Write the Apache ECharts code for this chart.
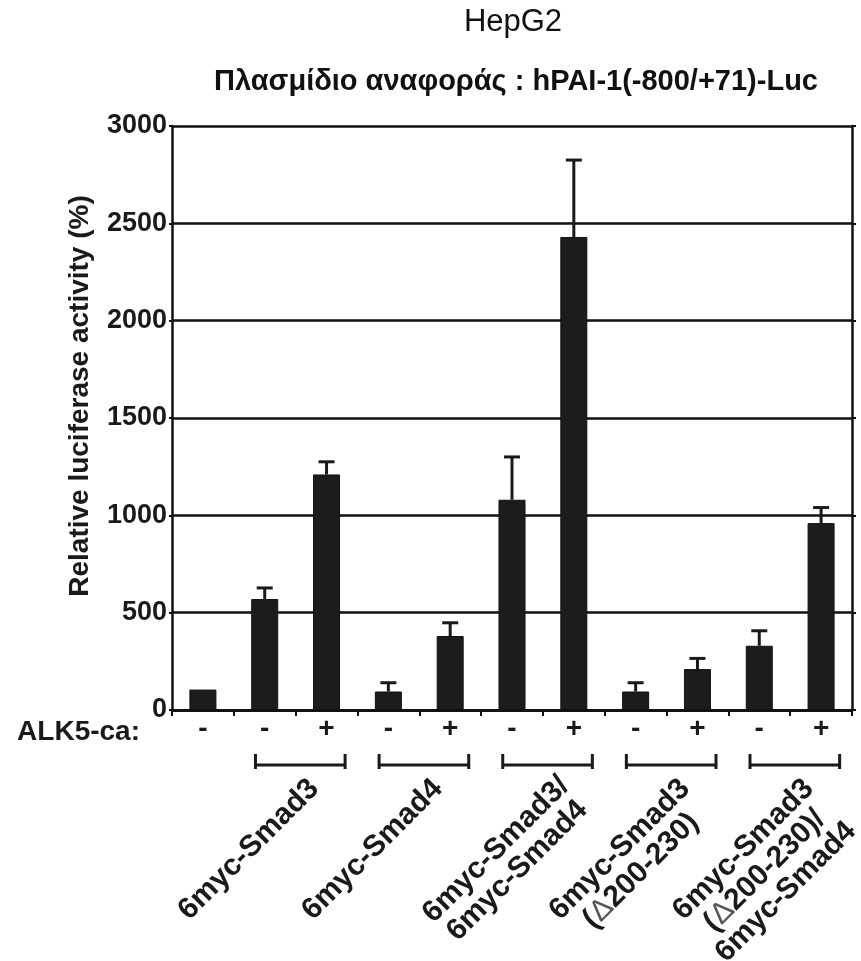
<!DOCTYPE html>
<html>
<head>
<meta charset="utf-8">
<title>HepG2</title>
<script src="https://cdn.jsdelivr.net/npm/echarts@6/dist/echarts.min.js"></script>
<style>
    body { margin: 0; background: #fff; }
    #chart { width: 861px; height: 961px; }
</style>
</head>
<body>
<div id="chart"></div>
<script>
    // ALK5-ca sign under each bar
    var alk5 = ['-', '-', '+', '-', '+', '-', '+', '-', '+', '-', '+'];
    // relative luciferase activity (%) and error (upper only)
    var values = [105, 570, 1210, 95, 380, 1080, 2430, 95, 210, 330, 960];
    var errors = [0, 57, 65, 45, 68, 220, 395, 45, 55, 77, 80];
    var yTicks = [0, 500, 1000, 1500, 2000, 2500, 3000];
    // brackets: first and last bar of each construct
    var groupStart = [1, 3, 5, 7, 9];
    var groupEnd = [2, 4, 6, 8, 10];
    var groupLabels = [
        '6myc-Smad3',
        '6myc-Smad4',
        '6myc-Smad3/\n6myc-Smad4',
        '6myc-Smad3\n({d|Δ}200-230)',
        '6myc-Smad3\n({d|Δ}200-230)/\n6myc-Smad4'
    ];

    var FONT = '"Liberation Sans", Arial, sans-serif';
    var INK = '#1a1a1a';

    var chart = echarts.init(document.getElementById('chart'));

    // error bar: line from bar top up to value + err, with a cap
    function renderError(params, api) {
        var e = api.value(2);
        if (!e) return;
        var i = api.value(0), v = api.value(1);
        var base = api.coord([i, v]);
        var top = api.coord([i, v + e]);
        var st = { stroke: INK, lineWidth: 3 };
        return {
            type: 'group',
            children: [
                { type: 'line', shape: { x1: base[0], y1: base[1], x2: top[0], y2: top[1] }, style: st },
                { type: 'line', shape: { x1: top[0] - 8, y1: top[1], x2: top[0] + 8, y2: top[1] }, style: st }
            ]
        };
    }

    // bracket under a pair of bars + rotated construct name
    function renderBracket(params, api) {
        var band = api.size([1, 0])[0];
        var a = api.coord([api.value(0), 0]);
        var b = api.coord([api.value(1), 0]);
        var x0 = a[0] - band * 0.15;
        var x1 = b[0] + band * 0.3;
        var y = a[1] + 55;
        var cx = (x0 + x1) / 2;
        var st = { stroke: INK, lineWidth: 3 };
        return {
            type: 'group',
            children: [
                { type: 'line', shape: { x1: x0, y1: y, x2: x1, y2: y }, style: st },
                { type: 'line', shape: { x1: x0, y1: y - 11, x2: x0, y2: y + 4 }, style: st },
                { type: 'line', shape: { x1: x1, y1: y - 11, x2: x1, y2: y + 4 }, style: st },
                {
                    type: 'text',
                    x: cx - 62,
                    y: y + 74,
                    rotation: Math.PI / 4,
                    style: {
                        text: groupLabels[params.dataIndex],
                        fontSize: 30,
                        fontWeight: 'bold',
                        fontFamily: FONT,
                        fill: INK,
                        align: 'center',
                        verticalAlign: 'top',
                        lineHeight: 30,
                        rich: {
                            d: { fontSize: 30, fontWeight: 'normal', fontFamily: FONT, fill: '#555', lineHeight: 30 }
                        }
                    }
                }
            ]
        };
    }

    chart.setOption({
        animation: false,
        backgroundColor: '#fff',
        graphic: [
            {
                type: 'text', x: 513, y: 22,
                style: { text: 'HepG2', fontSize: 31, fontFamily: FONT, fill: '#111', align: 'center', verticalAlign: 'middle' }
            },
            {
                type: 'text', x: 516, y: 82,
                style: { text: 'Πλασμίδιο αναφοράς : hPAI-1(-800/+71)-Luc', fontSize: 29, fontWeight: 'bold', fontFamily: FONT, fill: '#111', align: 'center', verticalAlign: 'middle' }
            }
        ],
        grid: { left: 172, right: 9, top: 126, bottom: 251 },
        xAxis: {
            type: 'category',
            data: alk5,
            name: 'ALK5-ca:',
            nameLocation: 'start',
            nameGap: 32,
            nameTextStyle: { fontSize: 28, fontWeight: 'bold', fontFamily: FONT, color: INK, align: 'right', verticalAlign: 'top', padding: [8, 0, 0, 0] },
            axisLine: { lineStyle: { color: '#111', width: 3 } },
            axisTick: { show: true, length: 6, lineStyle: { color: '#111', width: 2 } },
            axisLabel: { interval: 0, margin: 5, fontSize: 28, fontWeight: 'bold', fontFamily: FONT, color: INK },
            splitLine: { show: false }
        },
        yAxis: [
            {
                type: 'value',
                min: yTicks[0],
                max: yTicks[yTicks.length - 1],
                interval: 500,
                name: 'Relative luciferase activity (%)',
                nameLocation: 'middle',
                nameGap: 78,
                nameTextStyle: { fontSize: 28, fontWeight: 'bold', fontFamily: FONT, color: INK, padding: [0, 0, 0, 44] },
                axisLine: { show: true, lineStyle: { color: '#111', width: 2.5 } },
                axisTick: { show: true, length: 3, lineStyle: { color: '#111', width: 2 } },
                axisLabel: {
                    margin: 5, fontSize: 27, fontWeight: 'bold', fontFamily: FONT, color: INK,
                    formatter: function (v) { return String(v); }
                },
                splitLine: { show: true, lineStyle: { color: '#111', width: 2.5 } }
            },
            {
                type: 'value',
                position: 'right',
                min: yTicks[0],
                max: yTicks[yTicks.length - 1],
                interval: 500,
                axisLine: { show: true, lineStyle: { color: '#111', width: 2.5 } },
                axisTick: { show: true, length: 4, lineStyle: { color: '#111', width: 2 } },
                axisLabel: { show: false },
                splitLine: { show: false }
            }
        ],
        series: [
            {
                type: 'bar',
                data: values,
                barWidth: 27,
                itemStyle: { color: '#1c1c1c', borderColor: '#111', borderWidth: 1 },
                z: 3
            },
            {
                type: 'custom',
                renderItem: renderError,
                data: values.map(function (v, i) { return [i, v, errors[i]]; }),
                encode: { x: 0, y: 1 },
                z: 4
            },
            {
                type: 'custom',
                renderItem: renderBracket,
                clip: false,
                data: groupStart.map(function (s, i) { return [s, groupEnd[i]]; }),
                encode: { x: 0, y: 1 },
                z: 4
            }
        ]
    });
</script>
</body>
</html>
